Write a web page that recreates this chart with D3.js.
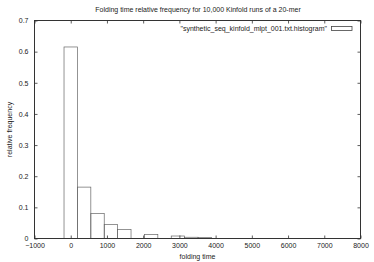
<!DOCTYPE html>
<html>
<head>
<meta charset="utf-8">
<script src="https://cdn.jsdelivr.net/npm/d3@7"></script>
<style>
  body { margin: 0; background: #fff; }
  text { font-family: "Liberation Sans", Arial, sans-serif; fill: #222; }
</style>
</head>
<body>
<div id="chart"></div>
<script>
// histogram of folding times (bin centres, relative frequency)
var binCenters = [0, 370, 740, 1110, 1480, 1850, 2220, 2590, 2960, 3330, 3700];
var freqs = [0.615, 0.165, 0.080, 0.045, 0.029, 0, 0.013, 0, 0.008, 0.004, 0.003];
var binWidth = 370;
var xTicks = [-1000, 0, 1000, 2000, 3000, 4000, 5000, 6000, 7000, 8000];
var yTicks = [0, 0.1, 0.2, 0.3, 0.4, 0.5, 0.6, 0.7];
var title = "Folding time relative frequency for 10,000 Kinfold runs of a 20-mer";
var seriesName = "\"synthetic_seq_kinfold_mlpt_001.txt.histogram\"";

var width = 374, height = 262;
// plot box (window.top is read-only, so avoid "top")
var plotL = 34.5, plotR = 360.5, plotT = 20.5, plotB = 238.5;

var svg = d3.select("#chart")
  .append("svg")
  .attr("width", width)
  .attr("height", height);

var x = d3.scaleLinear().domain([-1000, 8000]).range([plotL, plotR]);
var y = d3.scaleLinear().domain([0, 0.7]).range([plotB, plotT]);

// bars
svg.selectAll(".bar")
  .data(binCenters)
  .enter()
  .append("rect")
  .attr("class", "bar")
  .attr("x", function(d) { return x(d - binWidth / 2); })
  .attr("width", function(d) { return x(d + binWidth / 2) - x(d - binWidth / 2); })
  .attr("y", function(d, i) { return y(freqs[i]); })
  .attr("height", function(d, i) { return y(0) - y(freqs[i]); })
  .attr("fill", "none")
  .attr("stroke", "#666")
  .attr("stroke-width", 0.7);

// axes, ticks inward and mirrored
var tickLen = 3;
var fontSize = "7px";

var xb = d3.axisBottom(x).tickValues(xTicks).tickSize(-tickLen).tickPadding(5)
  .tickFormat(d3.format("d"));
var xt = d3.axisTop(x).tickValues(xTicks).tickSize(-tickLen).tickFormat("");
var yl = d3.axisLeft(y).tickValues(yTicks).tickSize(-tickLen).tickPadding(6)
  .tickFormat(function(d) { return d === 0 ? "0" : d3.format(".1f")(d); });
var yr = d3.axisRight(y).tickValues(yTicks).tickSize(-tickLen).tickFormat("");

function styleAxis(g) {
  g.select(".domain").remove();
  g.selectAll("line").attr("stroke", "#333").attr("stroke-width", 0.8);
  g.selectAll("text").style("font-size", fontSize).attr("fill", "#222");
}

svg.append("g").attr("transform", "translate(0," + plotB + ")").call(xb).call(styleAxis);
svg.append("g").attr("transform", "translate(0," + plotT + ")").call(xt).call(styleAxis);
svg.append("g").attr("transform", "translate(" + plotL + ",0)").call(yl).call(styleAxis);
svg.append("g").attr("transform", "translate(" + plotR + ",0)").call(yr).call(styleAxis);

// border
svg.append("rect")
  .attr("x", plotL).attr("y", plotT)
  .attr("width", plotR - plotL).attr("height", plotB - plotT)
  .attr("fill", "none")
  .attr("stroke", "#333")
  .attr("stroke-width", 1);

// title and axis labels
svg.append("text")
  .attr("x", 198).attr("y", 12)
  .attr("text-anchor", "middle")
  .style("font-size", fontSize)
  .text(title);

svg.append("text")
  .attr("x", (plotL + plotR) / 2).attr("y", 259)
  .attr("text-anchor", "middle")
  .style("font-size", fontSize)
  .text("folding time");

svg.append("text")
  .attr("transform", "translate(12," + ((plotT + plotB) / 2) + ") rotate(-90)")
  .attr("text-anchor", "middle")
  .style("font-size", fontSize)
  .text("relative frequency");

// legend
svg.append("text")
  .attr("x", 327).attr("y", 30.5)
  .attr("text-anchor", "end")
  .style("font-size", fontSize)
  .text(seriesName);

svg.append("rect")
  .attr("x", 331.5).attr("y", 26.5)
  .attr("width", 20.5).attr("height", 4)
  .attr("fill", "none")
  .attr("stroke", "#444")
  .attr("stroke-width", 0.8);
</script>
</body>
</html>
